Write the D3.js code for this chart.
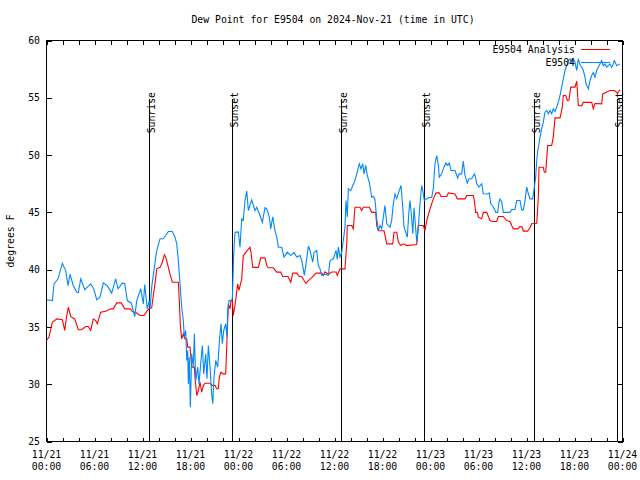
<!DOCTYPE html>
<html><head><meta charset="utf-8">
<script src="https://cdn.jsdelivr.net/npm/d3@7"></script>
<style>
html,body{margin:0;padding:0;background:#fff;}
text{font-family:"DejaVu Sans Mono",monospace;font-size:9.8px;fill:#000;}
</style></head>
<body>
<svg id="chart" width="640" height="480"></svg>
<script>
// ---- data (hours after 2024-11-21 00:00 UTC) ----
const title = "Dew Point for E9504 on 2024-Nov-21 (time in UTC)";
const yLabel = "degrees F";
const seriesNames = ["E9504 Analysis", "E9504"];
const yTicks = [25, 30, 35, 40, 45, 50, 55, 60];
const sunriseHours = [12.85, 36.85, 60.9];
const sunsetHours = [23.22, 47.22, 71.25];

const obsHours = [0.03,0.73,0.94,1.44,1.98,2.4,2.69,2.94,3.35,3.78,3.98,4.28,4.78,5.1,5.53,5.94,6.28,6.69,7.1,7.6,8.15,8.65,8.94,9.48,9.78,10.1,10.6,11.03,11.28,11.78,12.1,12.28,12.6,12.85,12.94,13.15,13.48,13.78,14.19,14.6,14.9,15.23,15.73,16.06,16.28,16.48,16.69,16.9,17.1,17.23,17.4,17.53,17.65,17.73,17.85,17.98,18.15,18.35,18.48,18.65,18.9,19.06,19.31,19.48,19.65,19.9,20.06,20.23,20.44,20.65,20.78,20.94,21.15,21.4,21.65,21.81,21.98,22.15,22.4,22.56,22.65,22.81,23.06,23.23,23.4,23.56,23.98,24.19,24.4,24.6,24.81,25.03,25.23,25.65,26.06,26.28,26.69,26.98,27.31,27.53,27.85,28.03,28.28,28.56,28.78,28.98,29.4,29.69,30.1,30.53,30.94,31.28,31.69,31.9,32.1,32.23,32.44,32.73,32.94,33.28,33.44,33.78,33.98,34.19,34.4,34.81,35.23,35.44,35.85,36.19,36.35,36.48,36.69,36.9,37.1,37.31,37.44,37.6,37.73,38.03,38.28,38.56,38.78,39.1,39.31,39.53,39.69,39.9,40.1,40.35,40.65,40.85,41.06,41.28,41.48,41.69,41.9,42.1,42.31,42.53,42.94,43.15,43.35,43.56,43.78,44.1,44.31,44.53,44.69,44.9,45.1,45.31,45.44,45.65,45.78,45.94,46.1,46.28,46.48,46.69,46.9,47.03,47.23,47.53,47.85,48.15,48.35,48.56,48.78,48.98,49.1,49.4,49.6,49.9,50.15,50.35,50.56,51.06,51.4,51.56,51.9,52.1,52.31,52.6,52.81,53.15,53.48,53.65,53.78,54.06,54.4,54.6,55.15,55.35,55.53,55.73,55.98,56.15,56.4,56.56,56.69,56.9,57.1,57.94,58.15,58.56,58.78,59.19,59.4,59.6,59.81,60.03,60.23,60.44,60.78,60.98,61.15,61.28,61.4,61.56,61.69,61.9,62.1,62.31,62.53,62.73,62.94,63.15,63.35,63.56,63.78,63.98,64.19,64.4,64.6,64.81,65.03,65.23,65.44,65.65,65.85,66.06,66.28,66.48,66.69,66.9,67.1,67.31,67.44,67.73,67.94,68.15,68.35,68.56,68.78,68.98,69.19,69.4,69.6,69.81,70.03,70.23,70.44,70.65,70.85,70.98,71.28,71.69];
const obsValues = [37.37,37.3,38.76,39.2,40.56,39.92,38.6,39.6,38.6,38.03,38.0,39.2,38.24,38.47,38.76,38.24,37.37,37.6,38.85,38.6,37.95,39.2,38.33,38.82,38.8,37.3,37.07,35.9,37.3,38.33,37.0,38.7,36.58,37.3,36.58,38.47,40.2,41.67,42.7,42.7,42.98,43.33,43.33,42.83,42.25,40.8,38.76,36.72,35.56,34.1,34.69,32.07,32.94,30.03,32.36,28.0,32.65,31.49,34.4,30.32,31.49,30.03,32.07,33.38,30.9,32.65,30.47,33.38,31.49,29.16,28.3,30.61,32.07,31.49,34.1,35.27,33.53,34.69,35.27,34.1,36.43,37.3,37.3,37.45,41.38,43.27,43.3,41.96,44.44,44.29,46.03,46.85,45.16,46.1,45.16,45.45,44.73,44.14,45.4,45.3,44.6,43.56,44.6,43.4,42.83,41.96,41.96,41.09,41.52,41.23,41.5,41.1,41.23,40.8,40.07,39.5,40.5,42.05,41.67,40.65,41.5,41.67,40.36,40.07,39.5,39.6,39.5,40.8,40.95,41.67,40.9,41.96,41.1,41.5,42.54,43.7,46.03,44.6,47.06,46.9,47.34,47.78,48.36,49.24,48.8,49.24,48.36,49.1,48.22,47.63,46.32,46.4,46.1,44.44,43.4,43.85,43.56,44.58,45.6,44.0,43.7,44.3,45.75,46.6,46.2,46.9,47.34,45.45,43.7,43.27,42.83,45.16,46.03,44.5,43.13,45.4,44.0,42.4,43.7,45.75,47.34,46.9,46.03,46.18,46.3,46.3,47.06,49.24,49.96,49.1,48.07,48.36,48.8,49.3,49.1,49.3,48.65,48.65,48.0,48.36,48.36,49.47,48.22,47.55,47.93,47.93,48.36,48.0,47.49,47.2,47.5,46.62,46.6,46.7,45.75,45.6,45.31,45.0,45.0,45.9,46.18,45.9,45.0,45.0,45.25,45.25,46.03,46.03,45.22,45.22,46.03,47.2,46.62,46.18,46.18,47.2,48.07,49.53,50.4,50.98,51.56,52.29,52.87,53.74,53.9,53.6,53.9,53.6,54.04,53.8,54.2,54.62,55.2,55.93,56.65,57.38,57.82,58.25,58.4,58.1,58.4,58.1,57.38,58.4,57.9,57.67,57.4,56.8,56.22,55.78,56.5,56.94,57.2,56.8,57.4,57.67,57.96,58.25,57.8,57.96,57.67,57.8,57.96,57.67,57.96,58.25,57.8,57.96];

const anaHours = [0.03,0.31,0.73,1.28,1.98,2.28,2.53,2.73,3.03,3.53,3.98,4.4,4.9,5.23,5.53,5.85,6.15,6.35,6.78,7.4,8.03,8.35,8.78,9.35,9.78,10.44,10.85,11.15,11.69,12.19,12.53,12.85,13.15,13.35,13.56,13.78,14.19,14.48,14.73,14.9,15.23,15.44,15.73,16.48,16.6,16.73,16.9,17.1,17.31,17.53,17.65,17.94,18.15,18.48,18.56,18.78,18.98,19.19,19.4,19.6,19.81,20.44,20.65,21.06,21.28,21.48,21.6,21.81,22.1,22.4,22.53,22.65,22.73,22.94,23.06,23.23,23.35,23.56,23.9,24.06,24.4,24.6,25.44,25.56,25.78,26.48,26.78,27.31,27.53,27.73,28.35,28.78,29.28,29.53,30.19,30.53,30.78,31.28,31.6,31.9,32.19,32.44,32.73,33.15,33.69,34.4,34.6,34.81,35.23,35.65,36.19,36.35,36.69,37.31,37.53,37.6,38.15,38.35,38.56,39.19,39.4,39.6,40.35,40.65,41.15,41.28,41.48,42.19,42.53,43.28,43.44,43.78,43.98,44.28,44.6,45.03,46.28,46.48,46.9,47.1,47.31,47.53,47.94,48.35,48.69,49.1,49.31,50.03,50.23,51.06,51.35,52.31,52.53,53.35,53.48,53.65,53.85,53.98,54.4,54.6,55.03,55.44,55.73,56.28,56.48,57.1,57.53,57.94,58.15,58.35,58.9,59.19,59.48,59.6,60.15,60.44,60.65,61.28,61.48,61.56,62.1,62.23,62.4,62.65,63.15,63.35,63.56,64.19,64.48,64.6,64.9,65.1,65.31,65.53,66.06,66.28,66.48,66.9,67.1,68.15,68.35,68.56,69.4,69.53,70.03,70.44,70.98,71.4,71.69];
const anaValues = [33.88,34.1,35.41,35.7,35.62,34.69,36.0,36.72,35.9,35.7,34.75,34.75,35.04,35.04,34.69,35.7,35.56,35.27,36.28,36.37,36.58,36.58,37.1,37.1,36.58,36.58,36.28,36.28,36.0,36.0,36.35,36.6,36.67,37.74,38.76,40.07,40.2,40.65,41.3,41.1,40.2,39.6,38.9,38.9,37.3,35.12,33.96,34.4,33.96,33.96,33.24,33.24,31.49,31.49,30.61,29.01,29.45,30.18,29.3,29.88,30.09,30.09,29.9,29.9,29.6,29.6,30.61,31.05,30.9,30.9,33.24,35.56,37.0,36.58,37.3,37.3,36.0,36.87,38.76,38.18,39.2,41.23,41.96,41.5,40.2,40.2,41.03,41.03,40.36,40.16,40.16,39.78,39.78,39.4,39.4,38.9,39.7,39.7,39.4,39.4,39.05,38.8,39.05,39.3,39.7,39.7,39.5,39.8,39.6,39.8,39.8,39.5,40.07,40.07,42.25,43.85,43.85,43.56,45.45,45.45,45.16,45.45,45.45,45.0,45.0,43.85,43.4,43.4,42.25,42.25,43.27,43.27,42.4,42.1,42.25,42.1,42.2,43.85,43.85,43.85,43.4,44.29,45.31,46.18,46.7,46.7,46.38,46.38,46.7,46.6,46.18,46.18,46.47,46.47,46.03,45.0,45.0,44.58,44.44,45.0,45.0,44.29,44.2,44.2,44.64,44.64,44.29,44.2,43.85,43.56,43.56,43.77,43.7,43.36,43.36,43.65,44.0,44.05,46.32,48.94,48.94,48.5,48.5,50.84,50.84,51.56,53.25,53.25,54.18,55.2,55.2,54.76,54.8,55.93,55.93,56.45,54.33,54.3,54.6,54.6,54.04,54.5,54.47,55.34,55.5,55.63,55.63,55.4,55.7];

// ---- layout ----
const W = 640, H = 480;
const L = 46.5, R = 622.5, T = 40.5, B = 441.5;
const t0 = Date.UTC(2024, 10, 21);
const toDate = h => new Date(t0 + h * 3600e3);

const svg = d3.select("#chart");
const x = d3.scaleUtc().domain([toDate(0), toDate(72)]).range([L, R]);
const y = d3.scaleLinear().domain([25, 60]).range([B, T]);

const minorTicks = d3.range(0, 73, 2).map(toDate);
const majorTicks = d3.range(0, 73, 6).map(toDate);

// axes (ticks inward, mirrored)
function styleAxis(g) {
  g.select(".domain").remove();
  g.selectAll("line").attr("stroke", "#000").attr("shape-rendering", "crispEdges");
}
svg.append("g").attr("transform", `translate(0,${B})`)
  .call(d3.axisBottom(x).tickValues(minorTicks).tickSizeInner(-4).tickSizeOuter(0).tickFormat(""))
  .call(styleAxis);
svg.append("g").attr("transform", `translate(0,${T})`)
  .call(d3.axisTop(x).tickValues(minorTicks).tickSizeInner(-4).tickSizeOuter(0).tickFormat(""))
  .call(styleAxis);
const yl = svg.append("g").attr("transform", `translate(${L},0)`)
  .call(d3.axisLeft(y).tickValues(yTicks).tickSizeInner(-5).tickSizeOuter(0).tickPadding(6.5))
  .call(styleAxis);
yl.selectAll("text").attr("font-family", null).attr("font-size", null).attr("fill", "#000");
svg.append("g").attr("transform", `translate(${R},0)`)
  .call(d3.axisRight(y).tickValues(yTicks).tickSizeInner(-5).tickSizeOuter(0).tickFormat(""))
  .call(styleAxis);

// bottom two-line labels
const fmtD = d3.utcFormat("%m/%d"), fmtT = d3.utcFormat("%H:%M");
const xl = svg.append("g").selectAll("text").data(majorTicks).join("text")
  .attr("text-anchor", "middle")
  .attr("transform", d => `translate(${x(d)},0)`);
xl.append("tspan").attr("x", 0).attr("y", 457.5).text(d => fmtD(d));
xl.append("tspan").attr("x", 0).attr("y", 469.5).text(d => fmtT(d));

// sunrise / sunset markers
const events = sunriseHours.map(h => ({h, label: "Sunrise"}))
  .concat(sunsetHours.map(h => ({h, label: "Sunset"})));
const ev = svg.append("g");
ev.selectAll("line").data(events).join("line")
  .attr("x1", d => Math.round(x(toDate(d.h))) + 0.5)
  .attr("x2", d => Math.round(x(toDate(d.h))) + 0.5)
  .attr("y1", 99).attr("y2", B)
  .attr("stroke", "#000").attr("shape-rendering", "crispEdges");
ev.selectAll("text").data(events).join("text")
  .attr("text-anchor", "end")
  .attr("transform", d => `translate(${Math.round(x(toDate(d.h))) + 6},92) rotate(-90)`)
  .text(d => d.label);

// data lines
const line = d3.line().x(d => x(toDate(d[0]))).y(d => y(d[1]));
const obs = d3.zip(obsHours, obsValues);
const ana = d3.zip(anaHours, anaValues);
svg.append("path").datum(ana).attr("d", line)
  .attr("fill", "none").attr("stroke", "#ff0000").attr("stroke-width", 1.1);
svg.append("path").datum(obs).attr("d", line)
  .attr("fill", "none").attr("stroke", "#0088ff").attr("stroke-width", 1.1);

// frame
svg.append("rect").attr("x", L).attr("y", T).attr("width", R - L).attr("height", B - T)
  .attr("fill", "none").attr("stroke", "#000").attr("shape-rendering", "crispEdges");

// title & y label
svg.append("text").attr("x", 333).attr("y", 23).attr("text-anchor", "middle").text(title);
svg.append("text").attr("text-anchor", "middle")
  .attr("transform", "translate(14,241) rotate(-90)").text(yLabel);

// legend
const legColors = ["#ff0000", "#0088ff"];
const lg = svg.append("g");
seriesNames.forEach((name, i) => {
  const yy = 49 + i * 13;
  lg.append("text").attr("x", 575).attr("y", yy + 4).attr("text-anchor", "end").text(name);
  lg.append("line").attr("x1", 581).attr("x2", 610).attr("y1", yy + 0.5).attr("y2", yy + 0.5)
    .attr("stroke", legColors[i]).attr("shape-rendering", "crispEdges");
});
</script>
</body></html>
